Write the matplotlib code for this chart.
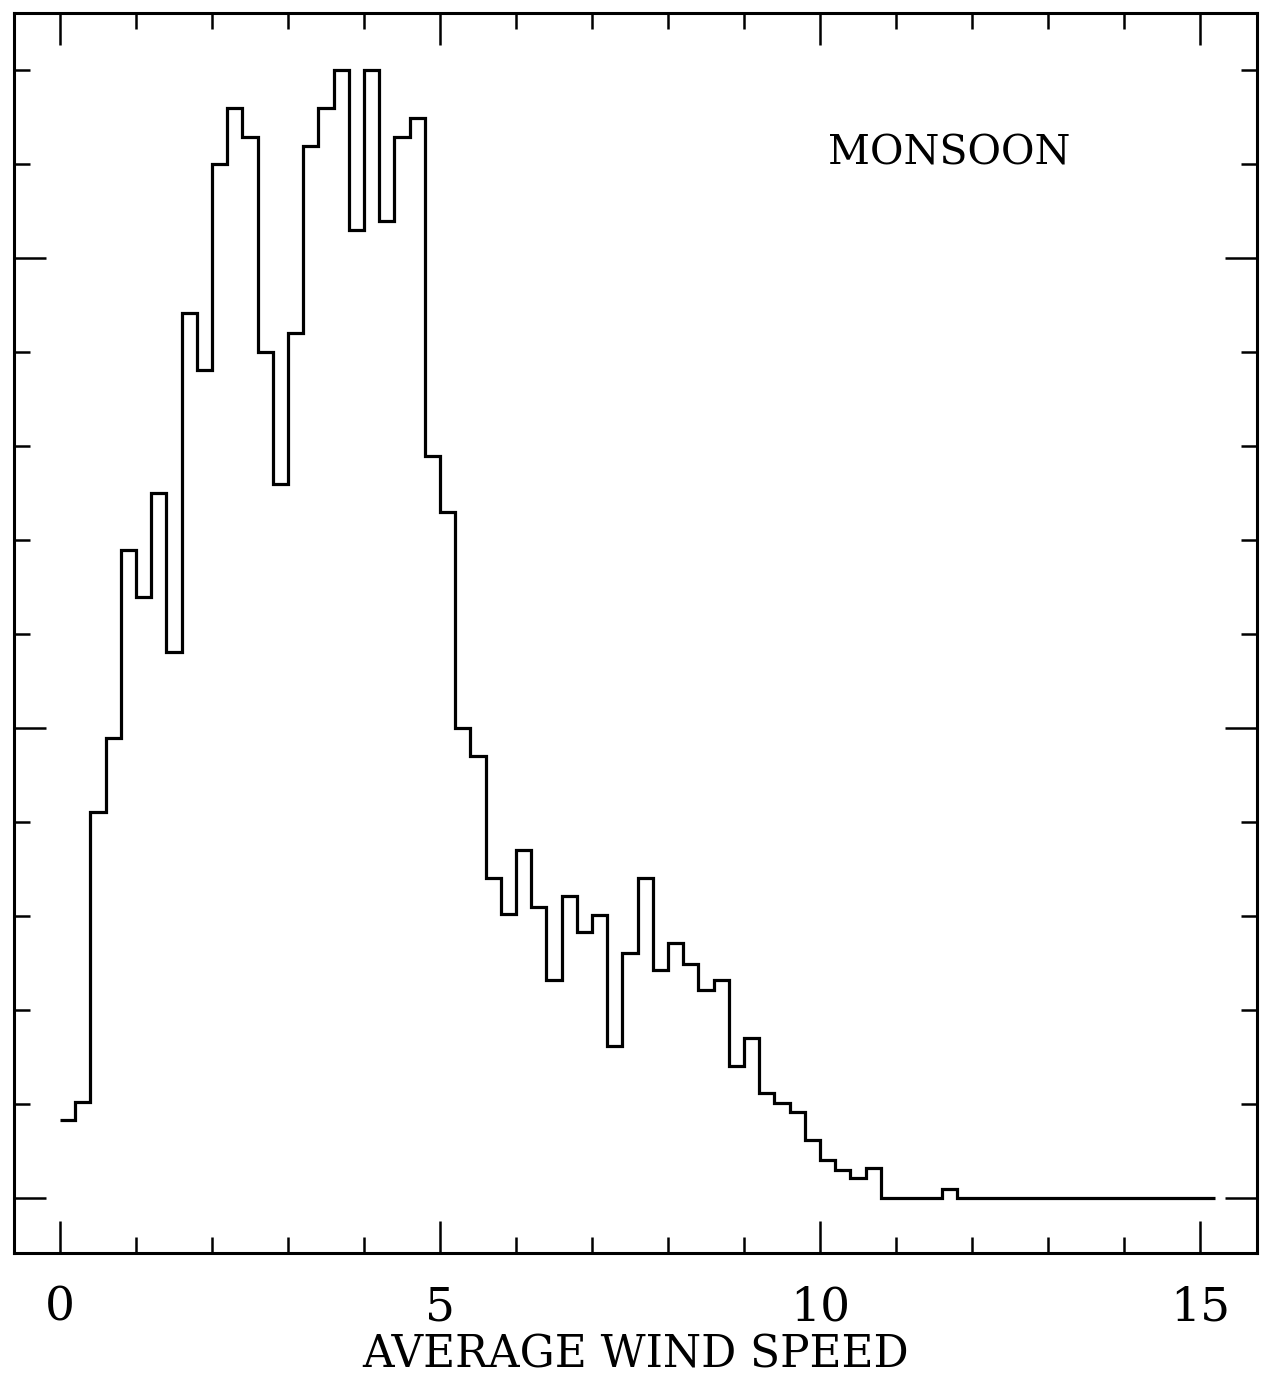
import numpy as np
import matplotlib.pyplot as plt
from matplotlib.ticker import MultipleLocator, NullFormatter

# bin edges of the histogram (wind speed), 0.2 wide
bin_width = 0.2
n_bins = 76
edges = np.arange(n_bins + 1) * bin_width

# counts per bin, in tick units
counts = [
    0.83, 1.02, 4.11, 4.90, 6.90, 6.40, 7.50, 5.81, 9.42, 8.81,
    11.00, 11.60, 11.29, 9.00, 7.60, 9.20, 11.19, 11.60, 12.00, 10.30,
    12.00, 10.40, 11.29, 11.49, 7.90, 7.30, 5.00, 4.70, 3.40, 3.02,
    3.70, 3.10, 2.32, 3.21, 2.83, 3.01, 1.62, 2.61, 3.40, 2.43,
    2.71, 2.49, 2.21, 2.32, 1.40, 1.70, 1.12, 1.01, 0.91, 0.62,
    0.40, 0.30, 0.21, 0.32, 0.00, 0.00, 0.00, 0.00, 0.10, 0.00,
    0.00, 0.00, 0.00, 0.00, 0.00, 0.00, 0.00, 0.00, 0.00, 0.00,
    0.00, 0.00, 0.00, 0.00, 0.00, 0.00,
]

xlabel = "AVERAGE WIND SPEED"
season = "MONSOON"

plt.rcParams['font.family'] = ['DejaVu Serif']

fig = plt.figure(figsize=(12.69, 13.79), dpi=100)
ax = fig.add_axes([0.011, 0.0914, 0.9795, 0.8992])

ax.stairs(counts, edges, baseline=None, color="black", linewidth=2.3)

ax.set_xlim(-0.605, 15.75)
ax.set_ylim(-0.585, 12.61)

ax.xaxis.set_major_locator(MultipleLocator(5))
ax.xaxis.set_minor_locator(MultipleLocator(1))
ax.yaxis.set_major_locator(MultipleLocator(5))
ax.yaxis.set_minor_locator(MultipleLocator(1))
ax.yaxis.set_major_formatter(NullFormatter())

ax.tick_params(which="both", direction="in", top=True, right=True,
               width=1.8, color="black")
ax.tick_params(which="major", length=23)
ax.tick_params(which="minor", length=11.5)
ax.tick_params(axis="x", which="major", labelsize=34, pad=23)

for s in ax.spines.values():
    s.set_linewidth(2.2)

ax.set_xlabel(xlabel, fontsize=31.5, labelpad=2)
ax.text(10.1, 11.0, season, fontsize=29.5, ha="left", va="baseline")

fig.savefig("out.png", dpi=100)
